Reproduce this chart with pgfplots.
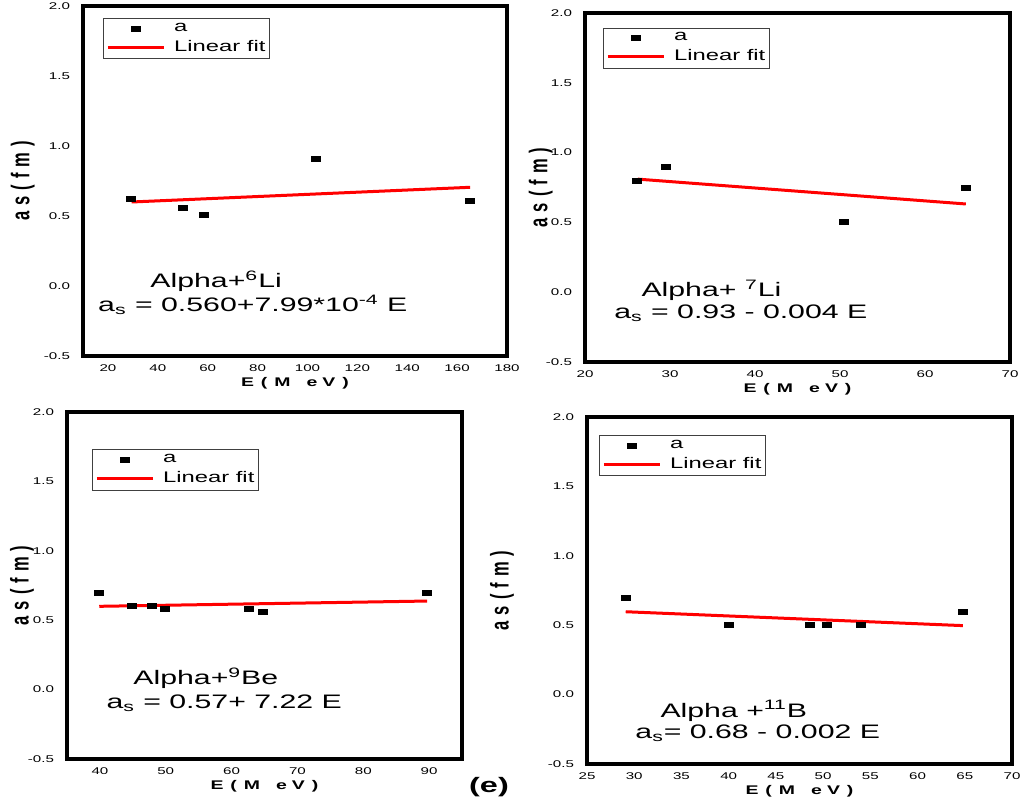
\documentclass[border=0pt]{standalone}
\usepackage{pgfplots}
\pgfplotsset{compat=1.18}
\usepackage{fontspec}
\setmainfont{Liberation Sans}[FakeStretch=1.55]
\newfontfamily\plainfont{Liberation Sans}

\newcommand{\xlab}{E\kern3.5bp(\kern3.5bp M\kern8bp e\kern2.5bp V\kern3.5bp)}
\newcommand{\ylab}{\scalebox{1}[1.55]{\plainfont\bfseries\fontsize{8.3}{9}\selectfont a\kern3bp s\kern3bp(\kern3bp f\kern3bp m\kern3bp)}}

\tikzset{note/.style={anchor=west, inner sep=0pt, font=\fontsize{9.8}{11}\selectfont}}

\pgfplotsset{
  panel/.style={
    scale only axis,
    axis line style={line width=2bp},
    tick style={draw=none},
    ymin=-0.5, ymax=2.0,
    ytick={-0.5,0,0.5,1,1.5,2},
    yticklabel style={/pgf/number format/fixed,/pgf/number format/fixed zerofill,/pgf/number format/precision=1,xshift=-3bp},
    xticklabel style={yshift=-1bp},
    tick label style={font=\fontsize{4.9}{5.5}\selectfont},
    /pgf/number format/assume math mode=true,
    xlabel={\xlab},
    xlabel style={font=\bfseries\fontsize{6.3}{7}\selectfont, anchor=center},
    ylabel={\ylab},
    ylabel style={anchor=center},
    legend style={draw=black!75, line width=0.5bp, font=\fontsize{7.7}{8.6}\selectfont,
      legend cell align=left, anchor=north west, inner xsep=1.5bp, inner ysep=1.8bp,
      column sep=4bp, row sep=2.2bp,
      nodes={inner sep=0.4bp}},
    legend image code/.code={\draw[mark repeat=2,mark phase=2,#1] plot coordinates {(0bp,0bp) (14bp,0bp) (28bp,0bp)};},
    clip=false,
  },
  pts/.style={only marks, mark=square*, mark size=1.25bp, black, mark options={xscale=1.8}},
  fit/.style={red, line width=1.5bp, no marks},
}

\begin{document}
\begin{tikzpicture}
\useasboundingbox (0,0) rectangle (510bp,404.5bp);

% Panel 1: Alpha + 6Li
\begin{axis}[panel, at={(41.5bp,226.5bp)}, anchor=south west,
  width=212bp, height=175bp, xmin=10, xmax=180, xtick={20,40,...,180},
  xlabel style={at={(axis description cs:0.5,-0.077)}},
  ylabel style={at={(axis description cs:-0.142,0.5)}},
  legend style={at={(axis description cs:0.047,0.965)}}]
\addplot[pts] coordinates {(29.2,0.62) (50.2,0.555) (58.6,0.505) (103.4,0.905) (165.2,0.605)};
\addlegendentry{a}
\addplot[fit] coordinates {(29.5,0.60) (165.2,0.705)};
\addlegendentry{Linear fit}
\node[note] at (rel axis cs:0.158,0.214) {Alpha+\textsuperscript{6}Li};
\node[note] at (rel axis cs:0.035,0.146) {a\textsubscript{s} = 0.560+7.99*10\textsuperscript{-4} E};
\end{axis}

% Panel 2: Alpha + 7Li
\begin{axis}[panel, at={(292.5bp,223.5bp)}, anchor=south west,
  width=212.5bp, height=174.5bp, xmin=20, xmax=70, xtick={20,30,...,70},
  xlabel style={at={(axis description cs:0.5,-0.077)}},
  ylabel style={at={(axis description cs:-0.104,0.5)}},
  legend style={at={(axis description cs:0.042,0.958)}}]
\addplot[pts] coordinates {(26.1,0.80) (29.5,0.90) (50.4,0.50) (64.8,0.75)};
\addlegendentry{a}
\addplot[fit] coordinates {(26.2,0.81) (64.8,0.632)};
\addlegendentry{Linear fit}
\node[note] at (rel axis cs:0.132,0.206) {Alpha+ \textsuperscript{7}Li};
\node[note] at (rel axis cs:0.068,0.140) {a\textsubscript{s} = 0.93 - 0.004 E};
\end{axis}

% Panel 3: Alpha + 9Be
\begin{axis}[panel, at={(33.5bp,25bp)}, anchor=south west,
  width=197.5bp, height=173.5bp, xmin=35, xmax=95, xtick={40,50,...,90},
  xlabel style={at={(axis description cs:0.5,-0.078)}},
  ylabel style={at={(axis description cs:-0.114,0.5)}},
  legend style={at={(axis description cs:0.063,0.892)}}]
\addplot[pts] coordinates {(39.9,0.70) (44.8,0.60) (47.9,0.60) (49.8,0.58) (62.7,0.58) (64.8,0.557) (89.7,0.70)};
\addlegendentry{a}
\addplot[fit] coordinates {(39.9,0.60) (89.7,0.638)};
\addlegendentry{Linear fit}
\node[note] at (rel axis cs:0.167,0.233) {Alpha+\textsuperscript{9}Be};
\node[note] at (rel axis cs:0.099,0.161) {a\textsubscript{s} = 0.57+ 7.22 E};
\end{axis}

% Panel 4: Alpha + 11B
\begin{axis}[panel, at={(293.5bp,22.5bp)}, anchor=south west,
  width=212.5bp, height=173.5bp, xmin=25, xmax=70, xtick={25,30,...,70},
  xlabel style={at={(axis description cs:0.5,-0.078)}},
  ylabel style={at={(axis description cs:-0.2,0.5)}},
  legend style={at={(axis description cs:0.028,0.948)}}]
\addplot[pts] coordinates {(29.1,0.70) (40.0,0.50) (48.6,0.50) (50.4,0.50) (54.0,0.50) (64.8,0.595)};
\addlegendentry{a}
\addplot[fit] coordinates {(29.1,0.597) (64.8,0.497)};
\addlegendentry{Linear fit}
\node[note] at (rel axis cs:0.172,0.153) {Alpha +\textsuperscript{11}B};
\node[note] at (rel axis cs:0.113,0.089) {a\textsubscript{s}= 0.68 - 0.002 E};
\end{axis}

\node[font=\bfseries\fontsize{10.5}{11}\selectfont] at (244.5bp,11bp) {(e)};
\end{tikzpicture}
\end{document}
